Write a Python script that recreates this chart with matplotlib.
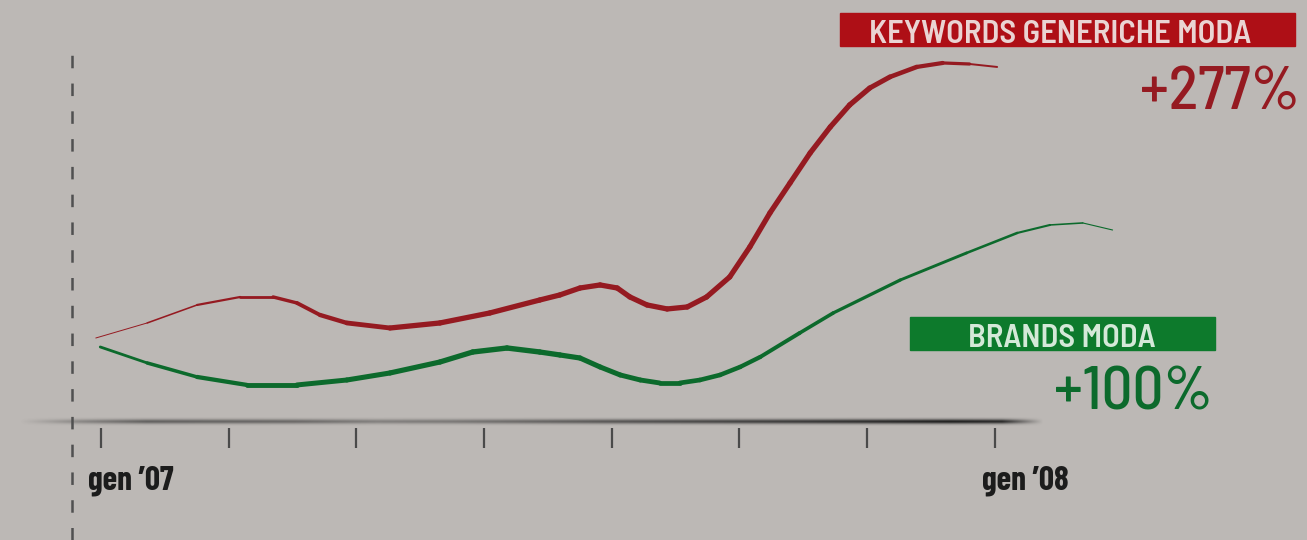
import numpy as np
import matplotlib.pyplot as plt
from matplotlib.collections import LineCollection
from matplotlib.patches import Rectangle

# months since gen '07, index values for each series
red_x = [-0.07, 0.62, 1.29, 1.87, 2.31, 2.63, 2.94, 3.30, 3.88, 4.55, 5.22, 5.89, 6.16,
         6.43, 6.70, 6.93, 7.10, 7.33, 7.60, 7.87, 8.13, 8.44, 8.71, 8.98, 9.25,
         9.52, 9.79, 10.05, 10.32, 10.59, 10.95, 11.30, 11.66, 12.03]
red_y = [105, 123.8, 146.3, 156.3, 156.3, 148.8, 133.8, 123.8, 117.5, 123.8, 136.3, 152.5, 158.8,
         167.5, 171.3, 167.5, 156.3, 146.3, 141.3, 143.8, 156.3, 181.3, 218.8, 261.3, 298.8,
         336.3, 368.8, 396.3, 417.5, 431.3, 443.8, 448.8, 447.5, 443.8]

green_x = [-0.01, 0.62, 1.29, 1.96, 2.63, 3.30, 3.88, 4.55, 4.99, 5.45, 5.89, 6.16,
           6.43, 6.70, 6.97, 7.24, 7.50, 7.77, 8.04, 8.31, 8.58, 8.85, 9.38, 9.83,
           10.73, 11.62, 12.30, 12.74, 13.18, 13.58]
green_y = [93.8, 73.8, 56.3, 46.3, 46.3, 52.5, 61.3, 75, 87.5, 92.5, 87.5, 83.8,
           80, 68.8, 58.8, 52.5, 48.8, 48.8, 52.5, 58.8, 68.8, 81.3, 111.3, 136.3,
           177.5, 211.3, 236.3, 246.3, 248.8, 240]

tick_months = np.linspace(0, 12, 8)
tick_labels = {0: "gen \u201907", 12: "gen \u201908"}

series_names = ["KEYWORDS GENERICHE MODA", "BRANDS MODA"]
series_changes = ["+277%", "+100%"]

bg = "#bcb8b5"
red = "#951a21"
green = "#0c6a2c"
box_red = "#ae0f16"
box_green = "#0d7a2c"

cond = ["Barlow Condensed", "Roboto Condensed", "DejaVu Sans"]
semi = ["Barlow Semi Condensed", "Barlow Condensed", "DejaVu Sans"]

fig = plt.figure(figsize=(13.07, 5.4), dpi=100)
fig.patch.set_facecolor(bg)
ax = fig.add_axes([0, 0, 1, 1])
ax.set_facecolor(bg)
ax.set_xlim(-1.356, 16.19)
ax.set_ylim(-147.5, 527.5)
ax.axis("off")


def tapered(x, y, color, profile):
    pts = np.column_stack([x, y])
    segs = np.stack([pts[:-1], pts[1:]], axis=1)
    f = np.linspace(0, 1, len(segs))
    widths = np.interp(f, profile[0], profile[1])
    lc = LineCollection(segs, colors=color, linewidths=widths,
                        capstyle="round", joinstyle="round", zorder=3)
    ax.add_collection(lc)


tapered(red_x, red_y, red, ([0, 0.12, 0.25, 0.85, 0.95, 1], [0.7, 2.4, 3.8, 3.8, 2.9, 1.4]))
tapered(green_x, green_y, green, ([0, 0.1, 0.3, 0.7, 0.9, 1], [2.0, 3.5, 3.9, 3.2, 1.8, 0.8]))

# smudged baseline drawn as an alpha gradient
bx = np.linspace(-1.1, 12.65, 600)
prof_x = [-1.1, -0.3, 0.6, 2.6, 3.7, 4.7, 6.7, 9.4, 11.4, 12.1, 12.65]
prof_a = [0.0, 0.3, 0.55, 0.5, 0.35, 0.4, 0.6, 0.8, 0.97, 0.9, 0.0]
alpha_x = np.interp(bx, prof_x, prof_a)
vy = np.linspace(-1, 1, 11)
alpha_y = np.exp(-(vy / 0.55) ** 2)
rgba = np.zeros((len(vy), len(bx), 4))
rgba[..., :3] = 0.1
rgba[..., 3] = alpha_y[:, None] * alpha_x[None, :]
ax.imshow(rgba, extent=(-1.1, 12.65, -5.5, 5.5), aspect="auto",
          interpolation="bilinear", zorder=2)

ax.vlines(tick_months, -33, -8, color="#4a4a4a", lw=1.6, zorder=2)
for m, lab in tick_labels.items():
    ax.text(m - 0.17, -85, lab, fontsize=24, fontweight="bold", family=cond,
            color="#1c1c1c", ha="left", va="baseline")

# dashed guide on the left
plt.rcParams["lines.scale_dashes"] = False
ax.plot([-0.39, -0.39], [-147.5, 471], color="#505050", lw=1.8,
        dashes=(9, 11), zorder=2)

# labels with coloured boxes
ax.add_patch(Rectangle((9.92, 470), 6.11, 41, color=box_red, zorder=4))
ax.text(12.87, 474, series_names[0], fontsize=23.5, fontweight="semibold", family=semi,
        color="#ead4d3", ha="center", va="baseline", zorder=5)
ax.text(16.09, 390, series_changes[0], fontsize=44, fontweight="medium", family=semi,
        color=red, ha="right", va="baseline")

ax.add_patch(Rectangle((10.86, 90), 4.09, 41, color=box_green, zorder=4))
ax.text(12.90, 94, series_names[1], fontsize=23.5, fontweight="semibold", family=semi,
        color="#d4e9d8", ha="center", va="baseline", zorder=5)
ax.text(14.93, 15, series_changes[1], fontsize=44, fontweight="medium", family=semi,
        color=green, ha="right", va="baseline")

fig.savefig("out.png", dpi=100, facecolor=bg)
